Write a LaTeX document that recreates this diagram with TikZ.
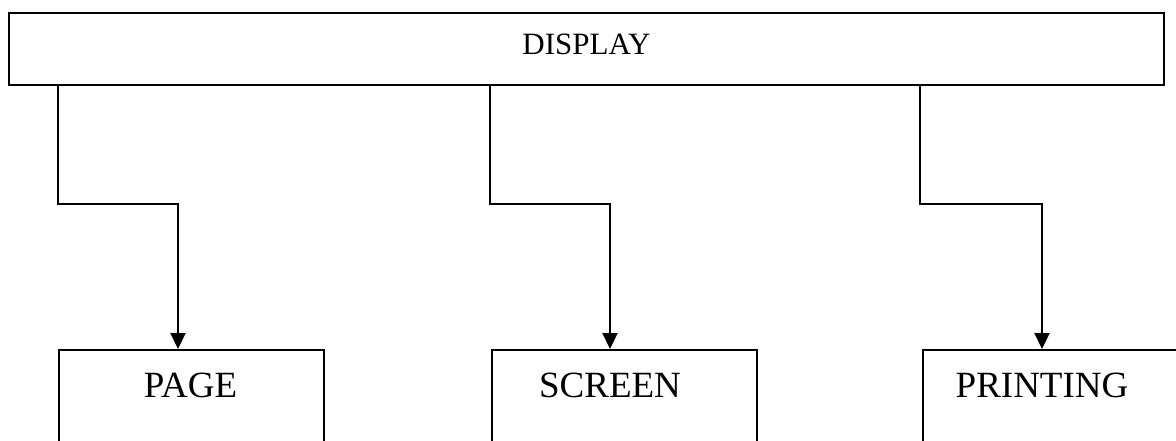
\documentclass[tikz,border=0pt]{standalone}
\usepackage{fontspec}
\setmainfont{Liberation Serif}
\usetikzlibrary{arrows.meta,calc}
\begin{document}
\begin{tikzpicture}[x=1pt,y=-1pt,
  topbox/.style={draw=black,line width=2.4pt,minimum width=1155pt,minimum height=72pt,inner sep=0pt,
    font=\fontsize{31}{31}\selectfont,text depth=10pt},
  childbox/.style={draw=black,line width=1.8pt,minimum width=265pt,minimum height=140pt,inner sep=0pt,anchor=north west},
  lbl/.style={font=\fontsize{37}{37}\selectfont,inner sep=0pt,anchor=base},
  conn/.style={draw=black,line width=2.3pt,-{Triangle[length=16pt,width=15pt]}}]
\useasboundingbox (0,0) rectangle (1176,441);
\clip (0,0) rectangle (1176,441);
\node[topbox] (display) at (586.5,49) {DISPLAY};
\node[childbox] (page) at (58,349) {};
\node[childbox] (screen) at (491,349) {};
\node[childbox] (printing) at (922,349) {};
\node[lbl] (pagel) at (190.5,397) {PAGE};
\node[lbl] (screenl) at (610,397) {SCREEN};
\node[lbl] (printingl) at (1042,397) {PRINTING};
\coordinate (pa) at (178,349);
\coordinate (sa) at (610,349);
\coordinate (ra) at (1042,349);
\coordinate (pb) at (58,204);
\coordinate (sb) at (490,204);
\coordinate (rb) at (920,204);
\draw[conn] (display.south -| pb) -- (pb) -- (pb -| pa) -- (pa);
\draw[conn] (display.south -| sb) -- (sb) -- (sb -| sa) -- (sa);
\draw[conn] (display.south -| rb) -- (rb) -- (rb -| ra) -- (ra);
\end{tikzpicture}
\end{document}
